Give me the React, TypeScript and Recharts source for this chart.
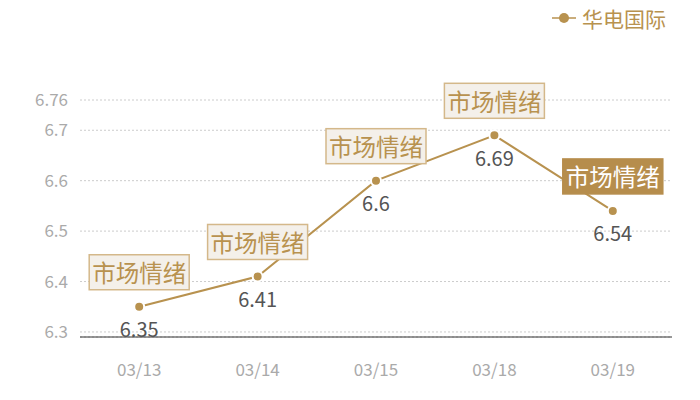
import React from 'react'
import {
  LineChart,
  Line,
  XAxis,
  YAxis,
  CartesianGrid,
  Legend,
  LabelList,
} from 'recharts'

const dates = ['03/13', '03/14', '03/15', '03/18', '03/19']
const prices = [6.35, 6.41, 6.6, 6.69, 6.54]
const tags = ['市场情绪', '市场情绪', '市场情绪', '市场情绪', '市场情绪']
const highlighted = [false, false, false, false, true]
const yTicks = [6.3, 6.4, 6.5, 6.6, 6.7, 6.76]
const seriesName = '华电国际'

const GOLD = '#b8924f'
const FONT = '"Noto Sans CJK SC", "Noto Sans", sans-serif'

const data = dates.map((d, i) => ({
  date: d,
  price: prices[i],
  tag: tags[i],
  hot: highlighted[i],
}))

const PointLabel = (props: any) => {
  const { x, y, value, index } = props
  const hot = highlighted[index]
  const boxW = 100
  const boxH = 35
  const boxBottom = y - 17
  return (
    <g>
      <text
        x={x}
        y={y + 22}
        textAnchor="middle"
        dominantBaseline="central"
        fontSize={20}
        fill="#555"
        fontFamily={FONT}
      >
        {value}
      </text>
      <rect
        x={x - boxW / 2}
        y={boxBottom - boxH}
        width={boxW}
        height={boxH}
        fill={hot ? '#b68d4c' : '#f4f0ea'}
        stroke={hot ? '#b68d4c' : '#d4b88a'}
        strokeWidth={1.5}
      />
      <text
        x={x}
        y={boxBottom - boxH / 2}
        textAnchor="middle"
        dominantBaseline="central"
        fontSize={23.5}
        fill={hot ? '#fff' : GOLD}
        fontFamily={FONT}
      >
        {tags[index]}
      </text>
    </g>
  )
}

const LegendContent = () => (
  <div
    style={{
      display: 'flex',
      alignItems: 'center',
      justifyContent: 'flex-end',
      fontFamily: FONT,
      fontSize: 21,
      color: GOLD,
    }}
  >
    <svg width={24} height={14} style={{ marginRight: 6 }}>
      <line x1={0} y1={7} x2={24} y2={7} stroke={GOLD} strokeWidth={1.5} />
      <circle cx={12} cy={7} r={5} fill={GOLD} />
    </svg>
    <span>{seriesName}</span>
  </div>
)

const App = () => {
  return (
    <div>
      <style>{`body { margin: 0; }`}</style>
      <LineChart
        width={700}
        height={400}
        data={data}
        margin={{ top: 70, right: 28, left: 0, bottom: 23 }}
      >
        <CartesianGrid
          horizontal
          vertical={false}
          stroke="#ccc"
          strokeDasharray="2 2"
        />
        <Legend
          verticalAlign="top"
          align="right"
          content={<LegendContent />}
          wrapperStyle={{ top: 3, right: 34, left: 'auto', width: 'auto' }}
        />
        <XAxis
          dataKey="date"
          scale="band"
          axisLine={{ stroke: '#333', strokeWidth: 1 }}
          tickLine={false}
          tickMargin={21}
          height={40}
          tick={{ fill: '#aaa', fontSize: 17, fontFamily: FONT }}
        />
        <YAxis
          width={80}
          domain={[6.29, 6.76]}
          ticks={yTicks}
          interval={0}
          allowDataOverflow
          axisLine={false}
          tickLine={false}
          tickMargin={6}
          tick={{ fill: '#aaa', fontSize: 17, fontFamily: FONT }}
        />
        <Line
          type="linear"
          dataKey="price"
          name={seriesName}
          stroke={GOLD}
          strokeWidth={2}
          dot={{ r: 5, fill: GOLD, stroke: '#fff', strokeWidth: 2 }}
          isAnimationActive={false}
        >
          <LabelList dataKey="price" content={<PointLabel />} />
        </Line>
      </LineChart>
    </div>
  )
}

export default App
